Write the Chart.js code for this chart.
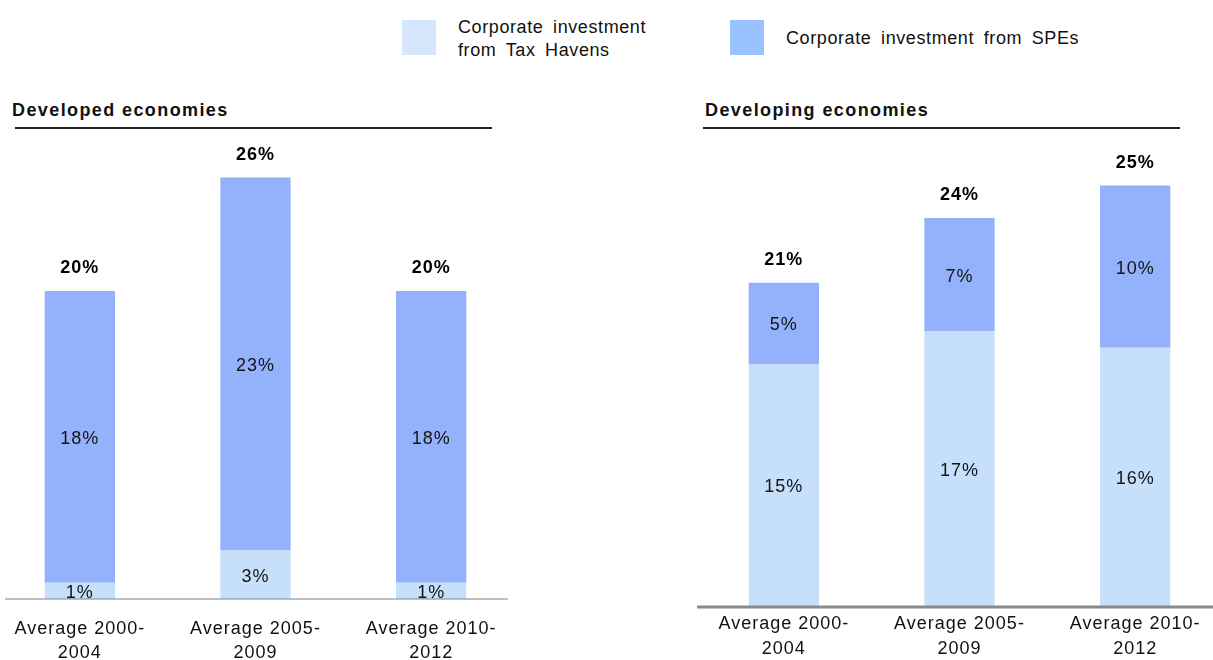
<!DOCTYPE html>
<html>
<head>
<meta charset="utf-8">
<script src="https://cdn.jsdelivr.net/npm/chart.js@4.4.1/dist/chart.umd.min.js"></script>
<style>
body { margin: 0; width: 1213px; height: 660px; overflow: hidden; position: relative; background: #fff;
       font-family: "Liberation Sans", Arial, sans-serif; color: #111; }
.box { position: absolute; top: 20px; width: 34px; height: 35px; }
.legtext { position: absolute; font-size: 18px; line-height: 23px; letter-spacing: 0.6px; word-spacing: 4px; }
.title { position: absolute; top: 100px; font-size: 18px; font-weight: bold; letter-spacing: 1.4px; }
.rule { position: absolute; top: 127px; height: 2px; background: #222; }
canvas { position: absolute; top: 0; }
</style>
</head>
<body>
<div class="box" style="left:402px;background:#d6e6fc"></div>
<div class="legtext" style="left:458px;top:16px">Corporate investment<br>from Tax Havens</div>
<div class="box" style="left:730px;background:#99c2fe"></div>
<div class="legtext" style="left:786px;top:27px">Corporate investment from SPEs</div>

<div class="title" style="left:12px">Developed economies</div>
<div class="rule" style="left:15px;width:477px"></div>
<div class="title" style="left:705px">Developing economies</div>
<div class="rule" style="left:703px;width:477px"></div>

<canvas id="developed" width="527" height="660" style="left:-8px"></canvas>
<canvas id="developing" width="527" height="660" style="left:696px"></canvas>

<script>
// Data (percent)
const categories = [['Average 2000-', '2004'], ['Average 2005-', '2009'], ['Average 2010-', '2012']];
const developedTaxHavens = [1, 3, 1];
const developedSPEs = [18, 23, 18];
const developedTotals = [20, 26, 20];
const developingTaxHavens = [15, 17, 16];
const developingSPEs = [5, 7, 10];
const developingTotals = [21, 24, 25];

const FONT = '"Liberation Sans", Arial, sans-serif';

// the original text is set a little loose
const spacing = {
    id: 'spacing',
    beforeDraw(chart) { chart.ctx.letterSpacing = '1px'; }
};

// draws the base line of the chart (the reference line is not the full plot width)
const baseLine = {
    id: 'baseLine',
    afterDatasetsDraw(chart, args, opts) {
        const ctx = chart.ctx;
        const y = chart.scales.y.getPixelForValue(0);
        ctx.save();
        ctx.strokeStyle = opts.color;
        ctx.lineWidth = opts.width;
        ctx.beginPath();
        ctx.moveTo(chart.chartArea.left + opts.insetLeft, y);
        ctx.lineTo(chart.chartArea.right - opts.insetRight, y);
        ctx.stroke();
        ctx.restore();
    }
};

// segment values in the middle of each piece, totals above each stack
const barLabels = {
    id: 'barLabels',
    afterDatasetsDraw(chart, args, opts) {
        const ctx = chart.ctx;
        ctx.save();
        ctx.textAlign = 'center';
        ctx.textBaseline = 'middle';
        ctx.fillStyle = '#141414';
        ctx.font = '18px ' + FONT;
        chart.data.datasets.forEach((ds, i) => {
            chart.getDatasetMeta(i).data.forEach((bar, j) => {
                ctx.fillText(ds.data[j] + '%', bar.x, (bar.y + bar.base) / 2 + 2);
            });
        });
        const tops = chart.getDatasetMeta(chart.data.datasets.length - 1).data;
        ctx.font = 'bold 18px ' + FONT;
        ctx.fillStyle = '#000';
        opts.totals.forEach((t, j) => ctx.fillText(t + '%', tops[j].x, tops[j].y - 23));
        ctx.restore();
    }
};

function makeChart(id, taxHavens, spes, totals, cfg) {
    const ctx = document.getElementById(id).getContext('2d');
    new Chart(ctx, {
        type: 'bar',
        data: {
            labels: categories,
            datasets: [
                { label: 'Corporate investment from Tax Havens', data: taxHavens, backgroundColor: '#c6dffa' },
                { label: 'Corporate investment from SPEs', data: spes, backgroundColor: '#94b1fb' }
            ]
        },
        options: {
            responsive: false,
            animation: false,
            events: [],
            layout: { padding: { top: cfg.top, left: 0, right: 0, bottom: 0 } },
            datasets: { bar: { categoryPercentage: 1, barPercentage: 0.4, borderWidth: 0 } },
            scales: {
                x: {
                    stacked: true,
                    grid: { display: false, drawTicks: false },
                    border: { display: false },
                    ticks: {
                        padding: cfg.tickPad,
                        color: '#111',
                        font: { family: FONT, size: 18, lineHeight: cfg.lineHeight }
                    },
                    afterFit: s => { s.height = cfg.axisHeight; }
                },
                y: { stacked: true, display: false, min: 0, max: 29 }
            },
            plugins: {
                legend: { display: false },
                tooltip: { enabled: false },
                baseLine: cfg.line,
                barLabels: { totals: totals }
            }
        },
        plugins: [spacing, baseLine, barLabels]
    });
}

makeChart('developed', developedTaxHavens, developedSPEs, developedTotals, {
    top: 129, axisHeight: 61, tickPad: 19, lineHeight: 1.28,
    line: { color: '#808080', width: 1, insetLeft: 13, insetRight: 11 }
});
makeChart('developing', developingTaxHavens, developingSPEs, developingTotals, {
    top: 137, axisHeight: 53, tickPad: 5, lineHeight: 1.39,
    line: { color: '#8a8a8a', width: 3, insetLeft: 1, insetRight: 0 }
});
</script>
</body>
</html>
